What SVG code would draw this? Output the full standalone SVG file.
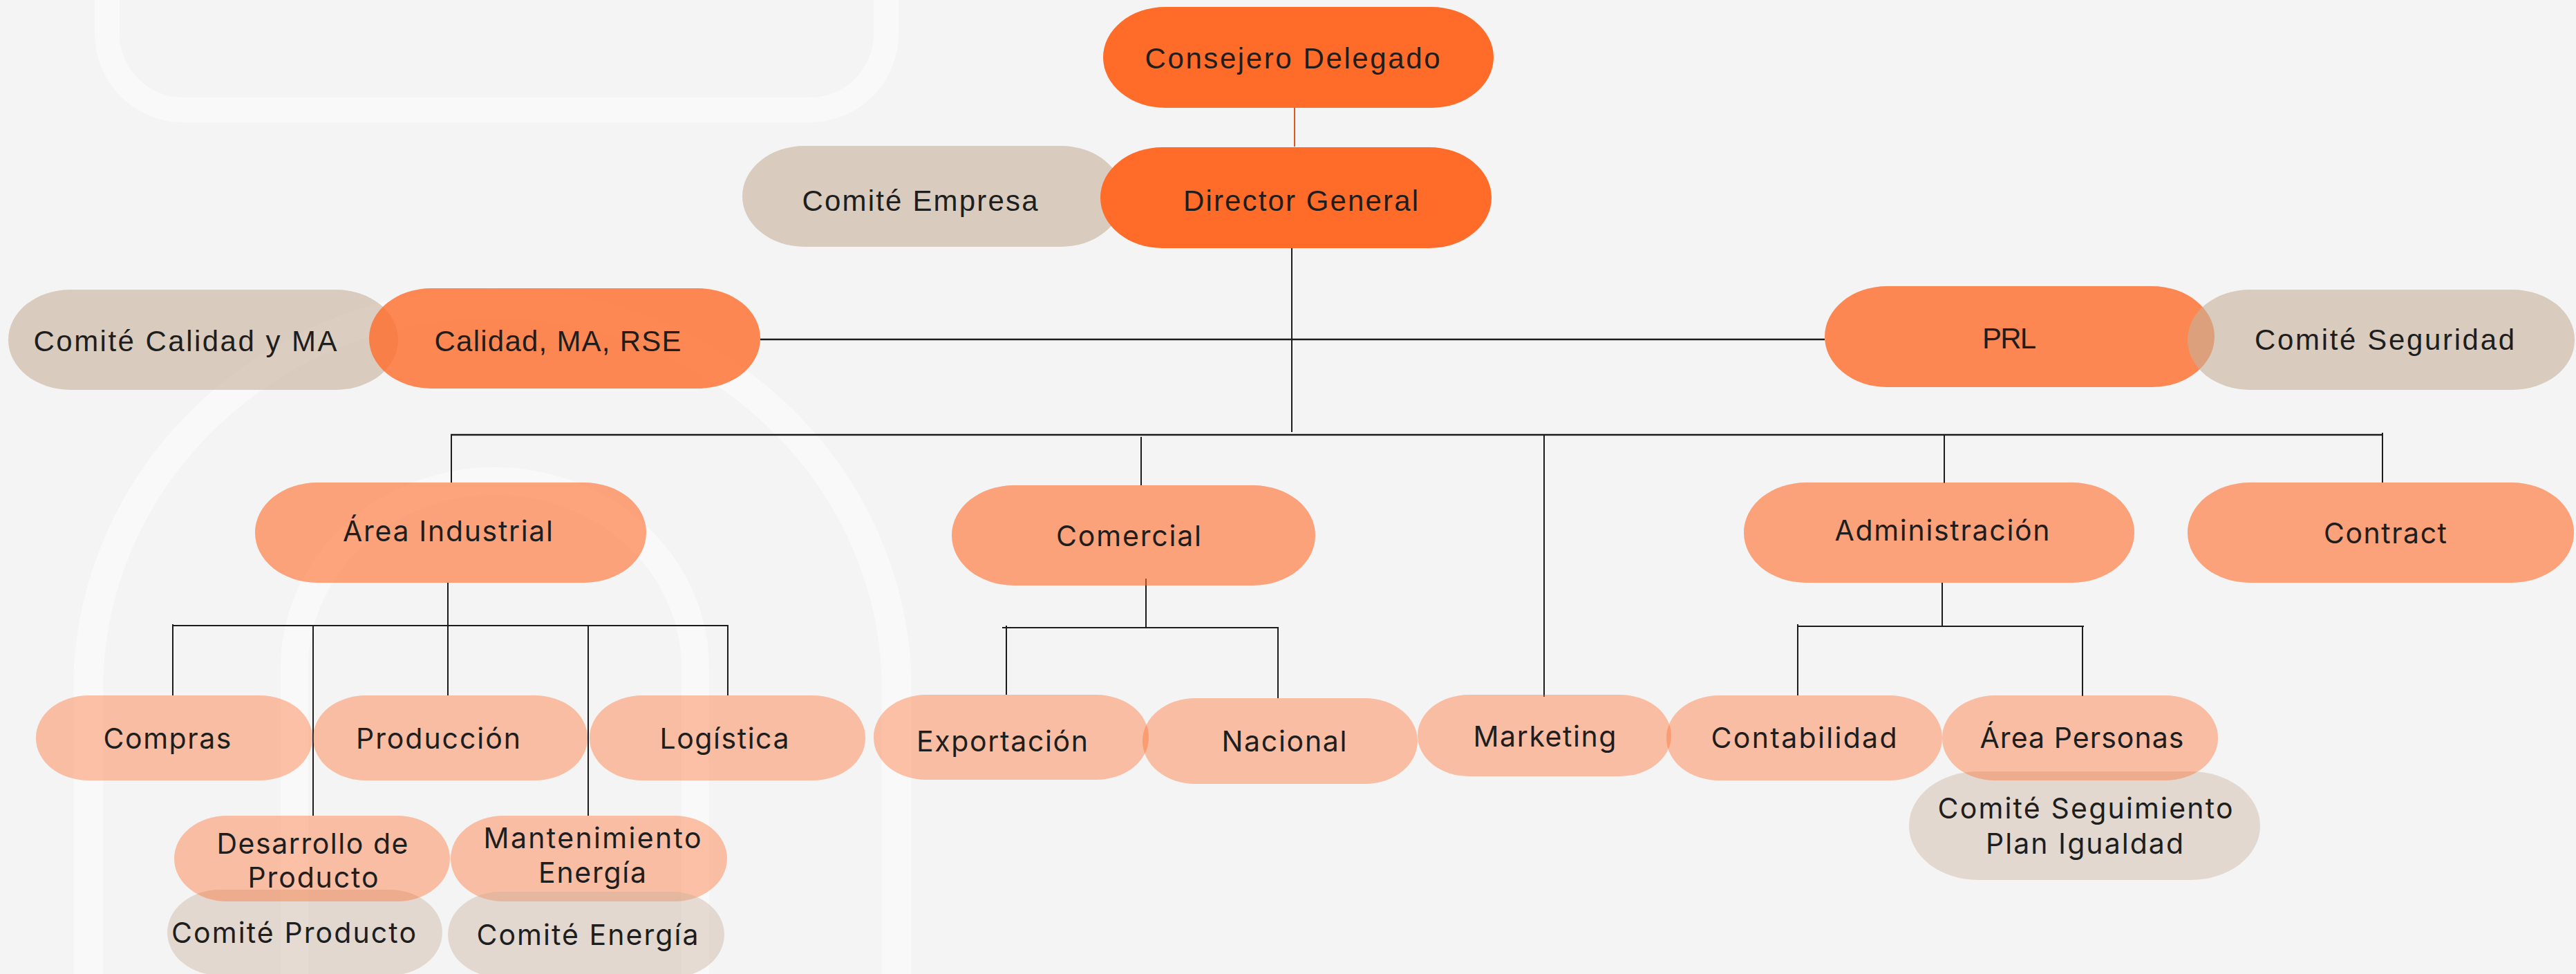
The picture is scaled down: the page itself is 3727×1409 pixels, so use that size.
<svg xmlns="http://www.w3.org/2000/svg" width="3727" height="1409" viewBox="0 0 3727 1409">
<style>
.deco{fill:none;stroke:#F9F9F9;}
.ln{stroke:#1C1C1C;stroke-width:2;fill:none;}
.lnb{stroke:#1C1C1C;stroke-width:2.6;fill:none;}
.top{fill:#FF6B29;}
.l1{fill:#FF6B29;fill-opacity:0.8;}
.l2{fill:#FF6B29;fill-opacity:0.6;}
.l3{fill:#FF6B29;fill-opacity:0.4;}
.cm{fill:#C7B09A;fill-opacity:0.6;}
.cm2{fill:#C7B09A;fill-opacity:0.4;}
.ta{font-family:"Liberation Sans",Arial,sans-serif;font-size:42px;fill:#1E1E1E;text-anchor:middle;}
.tb{font-family:Inter,"Open Sans","Liberation Sans",sans-serif;font-size:41px;fill:#1E1E1E;text-anchor:middle;}
</style>
<rect x="0" y="0" width="3727" height="1409" fill="#F4F4F4"/>
<g id="decor">
<rect class="deco" x="155" y="-300" width="1127" height="459" rx="110" stroke-width="36"/>
<path class="deco" d="M128 1420 V975 A585 560 0 0 1 1297 975 V1420" stroke-width="43"/>
<path class="deco" d="M426 1420 V966 A290 270 0 0 1 1006 966 V1420" stroke-width="40"/>
</g>
<g id="connectors">
<line x1="1873" y1="156" x2="1873" y2="212" stroke="#E0561C" stroke-width="2"/>
<line class="ln" x1="1869" y1="359" x2="1869" y2="625"/>
<line class="lnb" x1="1100" y1="491" x2="2640" y2="491"/>
<line class="lnb" x1="652" y1="629" x2="3448" y2="629"/>
<line class="ln" x1="653" y1="629" x2="653" y2="698"/>
<line class="ln" x1="1651" y1="632" x2="1651" y2="702"/>
<line class="ln" x1="2234" y1="629" x2="2234" y2="1008"/>
<line class="ln" x1="2813" y1="629" x2="2813" y2="699"/>
<line class="ln" x1="3447" y1="626" x2="3447" y2="698"/>
<line class="ln" x1="648" y1="843" x2="648" y2="905"/>
<line class="ln" x1="250" y1="905" x2="1054" y2="905"/>
<line class="ln" x1="250" y1="903" x2="250" y2="1006"/>
<line class="ln" x1="453" y1="905" x2="453" y2="1180"/>
<line class="ln" x1="648" y1="905" x2="648" y2="1006"/>
<line class="ln" x1="851" y1="905" x2="851" y2="1180"/>
<line class="ln" x1="1053" y1="905" x2="1053" y2="1006"/>
<line class="ln" x1="1658" y1="837" x2="1658" y2="908"/>
<line class="ln" x1="1450" y1="908" x2="1850" y2="908"/>
<line class="ln" x1="1456" y1="905" x2="1456" y2="1005"/>
<line class="ln" x1="1849" y1="908" x2="1849" y2="1010"/>
<line class="ln" x1="2810" y1="843" x2="2810" y2="906"/>
<line class="ln" x1="2601" y1="906" x2="3015" y2="906"/>
<line class="ln" x1="2601" y1="903" x2="2601" y2="1006"/>
<line class="ln" x1="3013" y1="906" x2="3013" y2="1007"/>
</g>
<g id="comite-empresa"><rect class="cm" x="1074" y="211" width="551" height="146" rx="90" ry="73"/><text class="ta" x="1331" y="305" textLength="341">Comité Empresa</text></g>
<g id="consejero-delegado"><rect class="top" x="1596" y="10" width="565" height="146" rx="90" ry="73"/><text class="ta" x="1870" y="99" textLength="427">Consejero Delegado</text></g>
<g id="director-general"><rect class="top" x="1592" y="213" width="566" height="146" rx="90" ry="73"/><text class="ta" x="1882" y="305" textLength="340">Director General</text></g>
<g id="comite-calidad"><rect class="cm" x="12" y="419" width="564" height="145" rx="90" ry="72"/><text class="ta" x="268" y="508" textLength="439">Comité Calidad y MA</text></g>
<g id="calidad"><rect class="l1" x="534" y="417" width="566" height="145" rx="90" ry="72"/><text class="ta" x="807" y="508" textLength="357">Calidad, MA, RSE</text></g>
<g id="prl"><rect class="l1" x="2640" y="414" width="564" height="146" rx="90" ry="73"/><text class="ta" x="2907" y="504" textLength="78">PRL</text></g>
<g id="comite-seguridad"><rect class="cm" x="3165" y="419" width="560" height="145" rx="90" ry="72"/><text class="ta" x="3450" y="506" textLength="376">Comité Seguridad</text></g>
<g id="area-industrial"><rect class="l2" x="369" y="698" width="566" height="145" rx="90" ry="72"/><text class="tb" x="648" y="783" textLength="304">Área Industrial</text></g>
<g id="comercial"><rect class="l2" x="1377" y="702" width="526" height="145" rx="90" ry="72"/><text class="tb" x="1633" y="790" textLength="210">Comercial</text></g>
<g id="administracion"><rect class="l2" x="2523" y="698" width="565" height="145" rx="90" ry="72"/><text class="tb" x="2810" y="782" textLength="311">Administración</text></g>
<g id="contract"><rect class="l2" x="3165" y="698" width="559" height="145" rx="90" ry="72"/><text class="tb" x="3451" y="786" textLength="178">Contract</text></g>
<g id="compras"><rect class="l3" x="52" y="1006" width="400" height="123" rx="76" ry="61"/><text class="tb" x="242" y="1083" textLength="185">Compras</text></g>
<g id="produccion"><rect class="l3" x="453" y="1006" width="397" height="123" rx="76" ry="61"/><text class="tb" x="634" y="1083" textLength="238">Producción</text></g>
<g id="logistica"><rect class="l3" x="853" y="1006" width="399" height="123" rx="76" ry="61"/><text class="tb" x="1048" y="1083" textLength="187">Logística</text></g>
<g id="exportacion"><rect class="l3" x="1264" y="1005" width="398" height="123" rx="76" ry="61"/><text class="tb" x="1450" y="1087" textLength="248">Exportación</text></g>
<g id="nacional"><rect class="l3" x="1653" y="1010" width="398" height="124" rx="76" ry="62"/><text class="tb" x="1858" y="1087" textLength="181">Nacional</text></g>
<g id="marketing"><rect class="l3" x="2051" y="1005" width="367" height="118" rx="74" ry="59"/><text class="tb" x="2235" y="1080" textLength="207">Marketing</text></g>
<g id="contabilidad"><rect class="l3" x="2411" y="1006" width="399" height="123" rx="76" ry="61"/><text class="tb" x="2610" y="1082" textLength="269">Contabilidad</text></g>
<g id="comite-seguimiento"><rect class="cm2" x="2762" y="1116" width="508" height="157" rx="100" ry="78"/><text class="tb" x="3017" y="1184" textLength="427">Comité Seguimiento</text><text class="tb" x="3016" y="1235" textLength="286">Plan Igualdad</text></g>
<g id="area-personas"><rect class="l3" x="2810" y="1006" width="399" height="123" rx="76" ry="61"/><text class="tb" x="3012" y="1082" textLength="295">Área Personas</text></g>
<g id="comite-producto"><rect class="cm2" x="242" y="1287" width="398" height="124" rx="76" ry="62"/><text class="tb" x="425" y="1364" textLength="354">Comité Producto</text></g>
<g id="desarrollo-producto"><rect class="l3" x="252" y="1180" width="399" height="124" rx="76" ry="62"/><text class="tb" x="452" y="1235" textLength="277">Desarrollo de</text><text class="tb" x="453" y="1284" textLength="189">Producto</text></g>
<g id="mantenimiento-energia"><rect class="l3" x="652" y="1180" width="400" height="124" rx="76" ry="62"/><text class="tb" x="857" y="1227" textLength="315">Mantenimiento</text><text class="tb" x="857" y="1277" textLength="156">Energía</text></g>
<g id="comite-energia"><rect class="cm2" x="648" y="1290" width="400" height="124" rx="76" ry="62"/><text class="tb" x="850" y="1367" textLength="321">Comité Energía</text></g>
</svg>
